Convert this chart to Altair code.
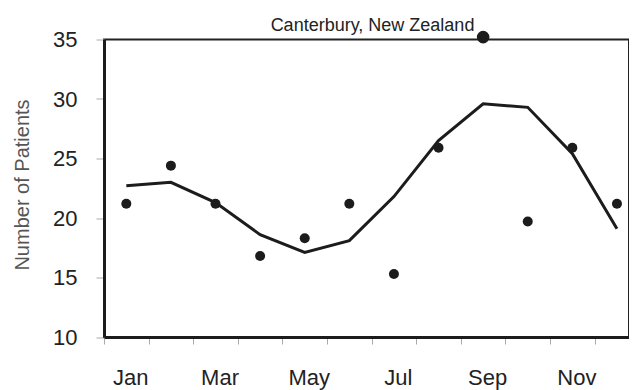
import json
import altair as alt
import pandas as pd

months = ["Jan", "Feb", "Mar", "Apr", "May", "Jun", "Jul", "Aug", "Sep", "Oct", "Nov", "Dec"]
month_num = [1, 2, 3, 4, 5, 6, 7, 8, 9, 10, 11, 12]
observed = [21.2, 24.4, 21.2, 16.8, 18.3, 21.2, 15.3, 25.9, 35.2, 19.7, 25.9, 21.2]
fitted = [22.7, 23.0, 21.3, 18.6, 17.1, 18.1, 21.8, 26.5, 29.6, 29.3, 25.4, 19.1]
y_ticks = [10, 15, 20, 25, 30, 35]
x_tick_values = [0.5, 1, 1.5, 2.5, 3, 3.5, 4.5, 5, 5.5, 6.5, 7, 7.5, 8.5, 9, 9.5, 10.5, 11, 11.5]

df = pd.DataFrame({"m": month_num, "month": months, "observed": observed, "fitted": fitted})

FONT = "Liberation Sans"
INK = "#1c1c1c"

label_expr = "datum.value % 2 === 1 ? " + json.dumps(months) + "[datum.value - 1] : ''"

x_axis = alt.Axis(
    values=x_tick_values,
    labelExpr=label_expr,
    title=None,
    grid=False,
    domain=True,
    domainColor=INK,
    domainWidth=3,
    tickSize=7,
    tickColor="#aaaaaa",
    tickWidth=1,
    tickOpacity={"condition": {"test": "datum.value % 1 === 0", "value": 0}, "value": 1},
    labelFont=FONT,
    labelFontSize=22,
    labelColor="#222222",
    labelPadding=23,
    labelOffset=4,
    labelOverlap=False,
    labelFlush=False,
)

y_axis = alt.Axis(
    values=y_ticks,
    title="Number of Patients",
    titleFont=FONT,
    titleFontSize=20,
    titleFontWeight="normal",
    titleColor="#555555",
    titleBaseline="alphabetic",
    titleX=-76,
    titleY=145,
    grid=False,
    domain=True,
    domainColor=INK,
    domainWidth=3,
    tickSize=8,
    tickColor="#aaaaaa",
    tickWidth=1,
    labelFont=FONT,
    labelFontSize=22,
    labelColor="#222222",
    labelPadding=19,
)

x_enc = alt.X("m:Q", scale=alt.Scale(domain=[0.5, 12.27], nice=False, zero=False), axis=x_axis)
y_scale = alt.Scale(domain=[10, 35], nice=False, zero=False)

points = alt.Chart(df).mark_circle(color=INK, opacity=1).encode(
    x=x_enc,
    y=alt.Y("observed:Q", scale=y_scale, axis=y_axis),
    size=alt.condition("datum.observed > 35", alt.value(160), alt.value(100)),
)

line = alt.Chart(df).mark_line(color=INK, strokeWidth=3).encode(
    x=x_enc,
    y=alt.Y("fitted:Q", scale=y_scale, axis=y_axis),
)

chart = (
    alt.layer(line, points)
    .properties(
        width=525,
        height=297.5,
        padding={"left": 96, "top": 31.5, "right": 0, "bottom": 53},
        autosize="none",
        title=alt.TitleParams(
            "Canterbury, New Zealand",
            font=FONT,
            fontSize=18,
            fontWeight="normal",
            color="#222222",
            anchor="middle",
            frame="group",
            baseline="alphabetic",
            offset=8,
            dy=28.5,
            dx=6,
        ),
    )
    .configure_view(stroke="#222222", strokeWidth=2)
)

chart.save("out.html", embed_options={"renderer": "svg", "actions": False})
